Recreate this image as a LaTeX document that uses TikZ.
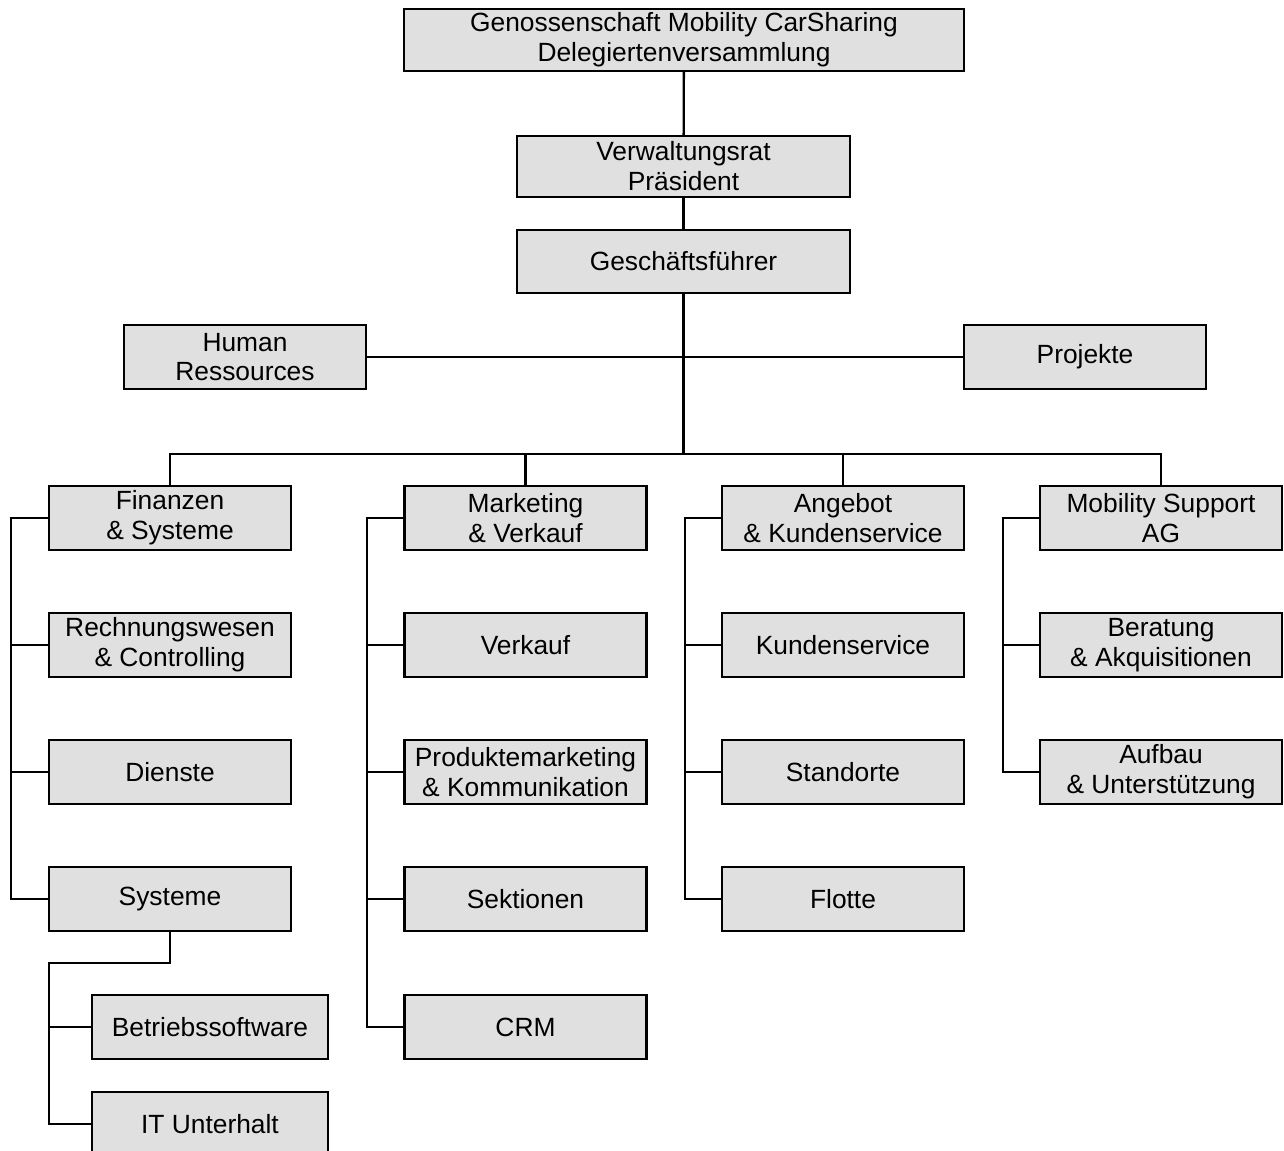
\documentclass[tikz,border=0pt]{standalone}
\usepackage{fontspec}
\setmainfont{Liberation Sans}
\usepackage{xcolor}
\definecolor{boxgray}{RGB}{224,224,224}
\begin{document}
\begin{tikzpicture}[x=0.02cm,y=-0.02cm,
	orgbox/.style={draw,fill=boxgray,line width=1.3pt,inner sep=0pt,align=center,
		minimum width=4.84cm,minimum height=1.28cm,font=\fontsize{15}{17}\selectfont},
	subbox/.style={orgbox,minimum width=4.72cm},
	wire/.style={line width=1.3pt}]
		\useasboundingbox(0,0)rectangle(1284,1151);
		% obere Ebene
		\node[orgbox,minimum width=11.2cm,minimum height=1.24cm](gen)at(684,40){Genossenschaft Mobility CarSharing\\Delegiertenversammlung};
		\node[orgbox,minimum width=6.66cm,minimum height=1.22cm](vr)at(683.5,166.5){Verwaltungsrat\\Präsident};
		\node[orgbox,minimum width=6.66cm,minimum height=1.26cm](gf)at(683.5,261.5){Geschäftsführer};
		\node[orgbox](hr)at(245,357){Human\\Ressources};
		\node[orgbox](proj)at(1085,357){Projekte};
		\coordinate(bus)at(0,454);
		% Spalte 1
		\node[orgbox](fin)at(170,518){Finanzen\\\& Systeme};
		\node[orgbox](rw)at(170,645){Rechnungswesen\\\& Controlling};
		\node[orgbox](dien)at(170,772){Dienste};
		\node[orgbox](sys)at(170,899){Systeme};
		\node[subbox](bsw)at(210,1027){Betriebssoftware};
		\node[subbox](itu)at(210,1124){IT Unterhalt};
		\coordinate(railA)at(11,0);
		\coordinate(railS)at(49,963);
		% Spalte 2
		\node[orgbox](mv)at(525.5,518){Marketing\\\& Verkauf};
		\node[orgbox](verk)at(525.5,645){Verkauf};
		\node[orgbox](pmk)at(525.5,772){Produktemarketing\\\& Kommunikation};
		\node[orgbox](sekt)at(525.5,899){Sektionen};
		\node[orgbox](crm)at(525.5,1027){CRM};
		\coordinate(railB)at(367,0);
		% Spalte 3
		\node[orgbox](ak)at(843,518){Angebot\\\& Kundenservice};
		\node[orgbox](ks)at(843,645){Kundenservice};
		\node[orgbox](std)at(843,772){Standorte};
		\node[orgbox](flo)at(843,899){Flotte};
		\coordinate(railC)at(685,0);
		% Spalte 4
		\node[orgbox](msag)at(1161,518){Mobility Support\\AG};
		\node[orgbox](bak)at(1161,645){Beratung\\\& Akquisitionen};
		\node[orgbox](auf)at(1161,772){Aufbau\\\& Unterstützung};
		\coordinate(railD)at(1003,0);
		% Verbindungen
		\draw[wire](gen)--(vr);
		\draw[wire](vr)--(gf);
		\draw[wire](gf.south)--(gf.south|-bus);
		\draw[wire](hr.east)--(proj.west);
		\draw[wire](fin.north)--(fin.north|-bus)--(msag.north|-bus)--(msag.north);
		\draw[wire](mv.north)--(mv.north|-bus);
		\draw[wire](ak.north)--(ak.north|-bus);
		\draw[wire](fin.west)--(fin.west-|railA)|-(sys.west);
		\draw[wire](rw.west)--(rw.west-|railA);
		\draw[wire](dien.west)--(dien.west-|railA);
		\draw[wire](sys.south)|-(railS)|-(itu.west);
		\draw[wire](bsw.west)--(bsw.west-|railS);
		\draw[wire](mv.west)--(mv.west-|railB)|-(crm.west);
		\foreach \n in {verk,pmk,sekt}
			\draw[wire](\n.west)--(\n.west-|railB);
		\draw[wire](ak.west)--(ak.west-|railC)|-(flo.west);
		\foreach \n in {ks,std}
			\draw[wire](\n.west)--(\n.west-|railC);
		\draw[wire](msag.west)--(msag.west-|railD)|-(auf.west);
		\draw[wire](bak.west)--(bak.west-|railD);
		\end{tikzpicture}
\end{document}
